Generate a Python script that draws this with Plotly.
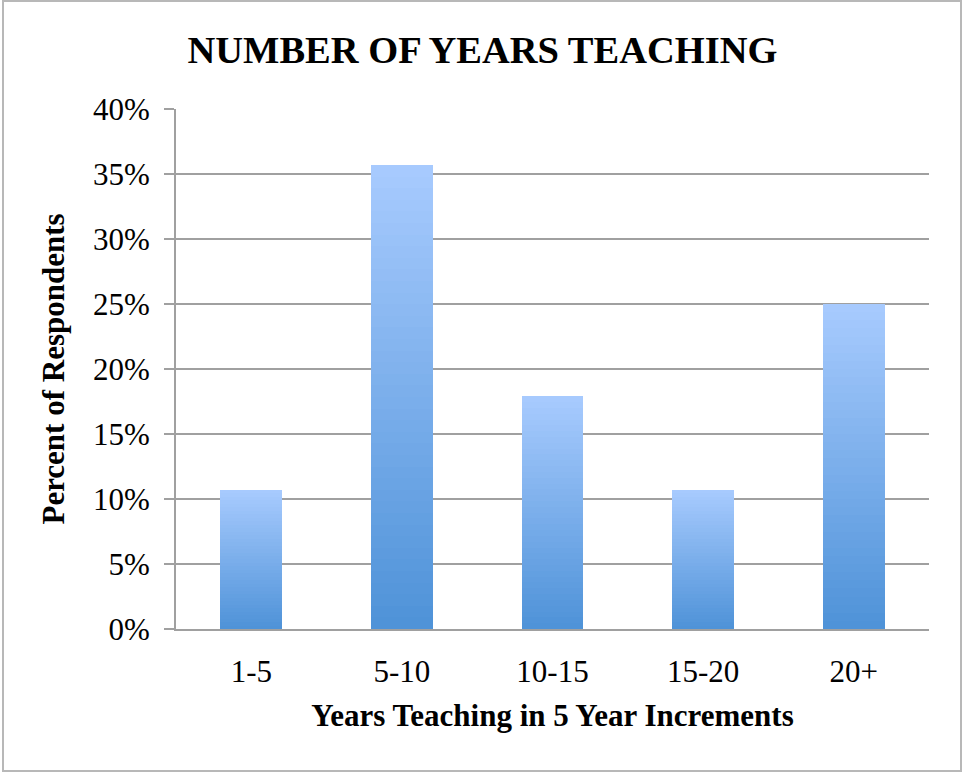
import plotly.graph_objects as go

categories = ["1-5", "5-10", "10-15", "15-20", "20+"]
percents = [10.7, 35.7, 17.9, 10.7, 25.0]
y_ticks = [0, 5, 10, 15, 20, 25, 30, 35, 40]
y_tick_labels = ["0%", "5%", "10%", "15%", "20%", "25%", "30%", "35%", "40%"]

W, H = 963, 773
L, R, T, B = 176, 34, 109, 144
PW, PH = W - L - R, H - T - B

top_rgb = (168, 203, 254)
bot_rgb = (78, 146, 216)
N = 40

fig = go.Figure()
for k in range(N):
    f = (k + 0.5) / N
    c = tuple(round(bot_rgb[i] + (top_rgb[i] - bot_rgb[i]) * f) for i in range(3))
    fig.add_trace(go.Bar(
        x=categories,
        y=[v / N for v in percents],
        marker=dict(color="rgb(%d,%d,%d)" % c, line=dict(width=0)),
        showlegend=False,
        hoverinfo="skip",
    ))

serif = "Liberation Serif, Times New Roman, serif"

def px_x(p):
    return (p - L) / PW

def px_y(p):
    return (H - B - p) / PH

fig.update_layout(
    width=W, height=H,
    margin=dict(l=L, r=R, t=T, b=B, autoexpand=False),
    paper_bgcolor="white", plot_bgcolor="white",
    barmode="stack", bargap=0.59,
    font=dict(family=serif, color="black"),
    title=dict(text="<b>NUMBER OF YEARS TEACHING</b>", font=dict(size=38.5, family=serif, color="black"),
               x=482.5 / W, xanchor="center", y=1 - 50 / H, yanchor="middle", xref="container", yref="container"),
    xaxis=dict(
        showgrid=False, showline=True, linecolor="#a0a0a0", linewidth=2,
        ticks="", tickfont=dict(size=31, family=serif, color="black"),
        ticklabelstandoff=14,
        title=dict(text="<b>Years Teaching in 5 Year Increments</b>", font=dict(size=31, family=serif, color="black"), standoff=16),
        automargin=False,
    ),
    yaxis=dict(
        range=[0, 40], tickvals=y_ticks, ticktext=y_tick_labels,
        showgrid=True, gridcolor="#a0a0a0", gridwidth=2,
        showline=True, linecolor="#a0a0a0", linewidth=2,
        ticks="outside", ticklen=10, tickcolor="#a0a0a0", tickwidth=2,
        tickfont=dict(size=31, family=serif, color="black"),
        ticklabelstandoff=8,
        zeroline=False,
        title=dict(text="<b>Percent of Respondents</b>", font=dict(size=31, family=serif, color="black"), standoff=19),
        automargin=False,
    ),
    shapes=[dict(type="rect", xref="paper", yref="paper",
                 x0=px_x(3), x1=px_x(961), y0=px_y(771), y1=px_y(1),
                 line=dict(color="#b8b8b8", width=2), fillcolor="rgba(0,0,0,0)", layer="below")],
)

fig.write_html("out.html", config={"displayModeBar": False},
               post_script="document.body.style.margin='0';document.body.style.overflow='hidden';")
